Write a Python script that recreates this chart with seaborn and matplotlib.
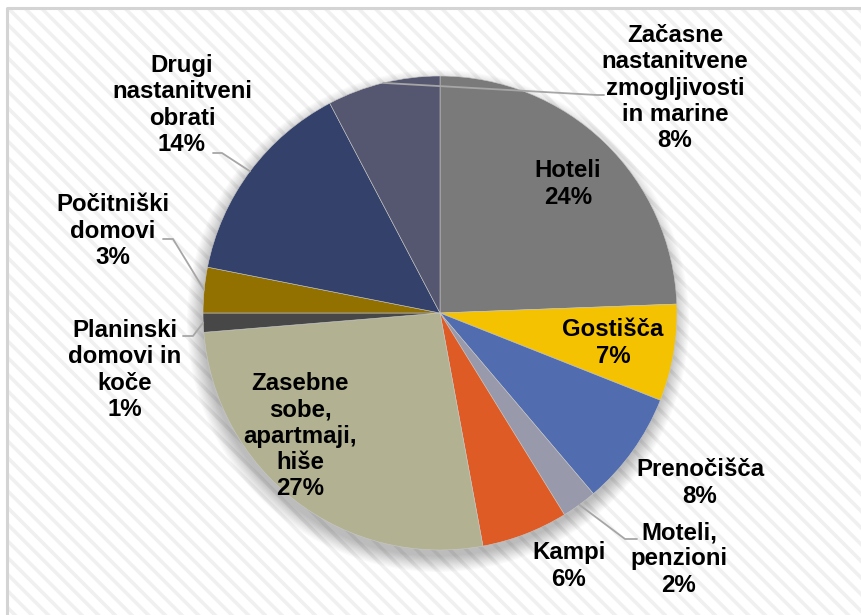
import numpy as np
import matplotlib
matplotlib.use("Agg")
import matplotlib.pyplot as plt
import seaborn as sns
from matplotlib.patches import Rectangle, Circle

# ---- data (share of accommodation, %) ----
categories = ["Hoteli", "Gostišča", "Prenočišča", "Moteli,\npenzioni", "Kampi",
              "Zasebne\nsobe,\napartmaji,\nhiše", "Planinski\ndomovi in\nkoče",
              "Počitniški\ndomovi", "Drugi\nnastanitveni\nobrati",
              "Začasne\nnastanitvene\nzmogljivosti\nin marine"]
shares = [24.4, 6.6, 7.8, 2.4, 5.9, 26.6, 1.3, 3.1, 14.2, 7.7]
shown_pct = [24, 7, 8, 2, 6, 27, 1, 3, 14, 8]
colors = ["#7a7a7a", "#f4c200", "#516db0", "#9899ab", "#de5b25",
          "#b2b293", "#474747", "#937100", "#34426b", "#555770"]

# ---- layout (pixel coordinates, y downwards) ----
W, H = 862, 615
cx, cy, R = 440, 313, 237
# label centre for each slice
label_xy = [(568, 184), (613, 343), (700, 483), (679, 559), (569, 566),
            (300, 436), (125, 370), (113, 231), (182, 105), (675, 88)]
# leader line: elbow point and end point (None -> no leader)
leaders = [None, None, None, ((625, 539), (637, 539)), None,
           None, ((193, 336), (183, 336)), ((173, 239), (163, 239)),
           ((222, 153), (213, 153)), ((597, 95), (604, 95))]

sns.set_theme(style="white")
plt.rcParams['font.family'] = ['Liberation Sans', 'DejaVu Sans']
plt.rcParams['hatch.linewidth'] = 2.6
plt.rcParams['hatch.color'] = '#f0f0f0'

fig = plt.figure(figsize=(W / 100, H / 100), dpi=100)
ax = fig.add_axes([0, 0, 1, 1])
ax.set_xlim(0, W)
ax.set_ylim(H, 0)
ax.set_aspect('equal')
ax.axis('off')

# background panel with diagonal stripes
ax.add_patch(Rectangle((7, 8), W, H, facecolor='white', edgecolor='#f0f0f0',
                       hatch='\\\\', linewidth=0, zorder=0))
ax.plot([7, 7, W], [H, 8, 8], color='#d4d4d4', lw=2.2, zorder=1)

# soft shadow under the pie
for i in range(14):
    ax.add_patch(Circle((cx - 2, cy + 8), R + 14 - i * 1.2, facecolor='black',
                        edgecolor='none', alpha=0.02, zorder=1))

# y axis is inverted, so counterclock in data == clockwise on screen
wedges, _ = ax.pie(shares, colors=sns.color_palette(colors), startangle=-90,
                   counterclock=True, center=(cx, cy), radius=R,
                   wedgeprops=dict(edgecolor='#c8c8c8', linewidth=0.4),
                   frame=True)
for w in wedges:
    w.set_zorder(2)
ax.set_xlim(0, W)
ax.set_ylim(H, 0)
ax.axis('off')

for w, name, pct, (lx, ly), ld in zip(wedges, categories, shown_pct, label_xy, leaders):
    ax.text(lx, ly, f"{name}\n{pct}%", ha='center', va='center', fontsize=17.3,
            fontweight='bold', color='black', linespacing=1.17, zorder=5)
    if ld is not None:
        mid = np.deg2rad((w.theta1 + w.theta2) / 2)
        px, py = cx + R * np.cos(mid), cy + R * np.sin(mid)
        (ex, ey), (tx, ty) = ld
        ax.plot([px, ex, tx], [py, ey, ty], color='#a6a6a6', lw=1.3, zorder=4)

fig.savefig("out.png", dpi=100)
